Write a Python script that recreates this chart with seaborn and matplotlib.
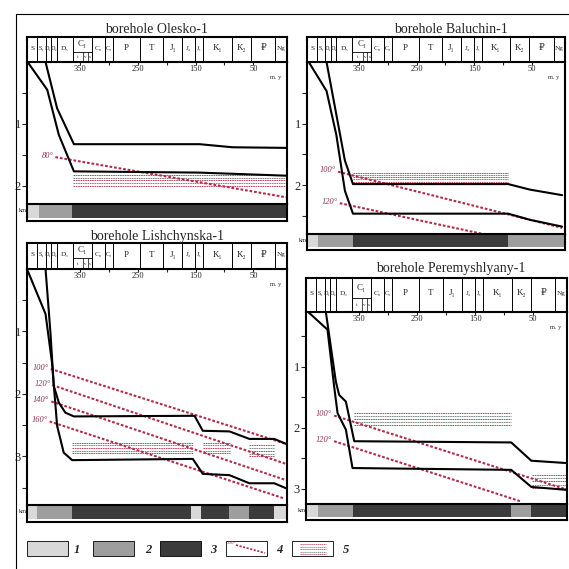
import matplotlib.pyplot as plt
from matplotlib.patches import Rectangle
import numpy as np
import seaborn as sns

W, H = 569, 569

# time scale of the header (m.y.)
stage_labels = ["S", "S₂", "D₁", "D₂", "D₃", "C₁", "C₂", "C₃", "P", "T",
                "J₁", "J₂", "J₃", "K₁", "K₂", "₽", "Ng"]
stage_edges = [441, 423, 409, 399, 390, 362, 329, 307, 293, 246,
               206, 173, 151, 137, 87, 54, 12, -8]
c1_sub_labels = ["t", "v", "s"]
c1_sub_edges = [362, 344, 336, 329]
age_ticks = [350, 300, 250, 200, 150, 100, 50]
age_ticklabels = ["350", "", "250", "", "150", "", "50"]

fill_colors = {1: "#d8d8d8", 2: "#9e9e9e", 3: "#3b3b3b"}

# Olesko-1
olesko_top_age = [409, 389, 360, 143, 86, -7]
olesko_top_depth = [0.0, 0.75, 1.33, 1.33, 1.38, 1.39]
olesko_base_age = [440, 406, 386, 360, 143, -7]
olesko_base_depth = [0.0, 0.45, 1.18, 1.77, 1.79, 1.84]
olesko_iso_temp = ["80°"]
olesko_iso_age = [[392, -7]]
olesko_iso_depth = [[1.54, 2.19]]
olesko_band = [(362, -7, 1.83, 2.00)]
olesko_fill_edges = [441, 421, 363, -8]
olesko_fill_class = [1, 2, 3]

# Baluchin-1
baluchin_top_age = [407, 390, 375, 361, 91, 53, -3]
baluchin_top_depth = [0.0, 0.85, 1.60, 1.98, 1.98, 2.07, 2.16]
baluchin_base_age = [438, 407, 390, 375, 361, 91, 53, -3]
baluchin_base_depth = [0.0, 0.47, 1.18, 2.09, 2.46, 2.46, 2.56, 2.67]
baluchin_iso_temp = ["100°", "120°"]
baluchin_iso_age = [[387, -3], [384, 100]]
baluchin_iso_depth = [[1.78, 2.69], [2.29, 2.86]]
baluchin_band = [(361, 91, 1.80, 1.94)]
baluchin_fill_edges = [441, 421, 361, 91, -8]
baluchin_fill_class = [1, 2, 3, 2]

# Lishchynska-1
lish_top_age = [409, 400.5, 394.8, 386, 374.7, 360, 151.7, 137.4, 91.4, 57, 14, -6.4]
lish_top_depth = [0.0, 1.02, 1.87, 2.14, 2.30, 2.36, 2.35, 2.59, 2.60, 2.72, 2.72, 2.80]
lish_base_age = [439.7, 409, 397.8, 389, 377.6, 363, 154.7, 137.4, 91.4, 57, 14, -6.4]
lish_base_depth = [0.03, 0.72, 1.50, 2.51, 2.94, 3.06, 3.04, 3.28, 3.30, 3.43, 3.43, 3.51]
lish_iso_temp = ["100°", "120°", "140°", "160°"]
lish_iso_age = [[400, -6.4], [397, -6.4], [399, -6.4], [402, -2]]
lish_iso_depth = [[1.60, 2.80], [1.86, 3.12], [2.12, 3.38], [2.44, 3.67]]
lish_band = [(364, 155, 2.78, 2.95), (137, 91, 2.78, 2.95), (57, 14, 2.82, 3.00)]
lish_fill_edges = [441, 423, 363, 157, 140, 92, 57, 14, -8]
lish_fill_class = [1, 2, 3, 1, 3, 2, 3, 1]

# Peremyshlyany-1
perem_top_age = [407, 389.7, 384, 372.4, 358, 88, 53.4, -9.8]
perem_top_depth = [0.09, 1.24, 1.46, 1.57, 2.22, 2.24, 2.54, 2.58]
perem_base_age = [438.4, 404, 392.6, 386.7, 372.4, 361, 88, 53.4, -9.8]
perem_base_depth = [0.09, 0.39, 1.32, 1.76, 2.03, 2.66, 2.69, 2.97, 3.02]
perem_iso_temp = ["100°", "120°"]
perem_iso_age = [[392.6, -9.8], [392.6, 70.7]]
perem_iso_depth = [[1.80, 3.02], [2.22, 3.21]]
perem_band = [(358, 88, 1.76, 1.95), (53, -10, 2.77, 2.99)]
perem_fill_edges = [441, 421, 361, 88, 54, -8]
perem_fill_class = [1, 2, 3, 2, 3]

boreholes = [
    dict(title="borehole Olesko-1", tx=156, ty=29, x0=27, x1=287, yh0=37, yh1=62, yb=203.5, yend=221,
         ylim=(2.29, 0), top=(olesko_top_age, olesko_top_depth), base=(olesko_base_age, olesko_base_depth),
         iso=(olesko_iso_temp, olesko_iso_age, olesko_iso_depth), bands=olesko_band,
         fill=(olesko_fill_edges, olesko_fill_class)),
    dict(title="borehole Baluchin-1", tx=451, ty=29, x0=307, x1=565, yh0=37, yh1=62, yb=234, yend=250,
         ylim=(2.79, 0), top=(baluchin_top_age, baluchin_top_depth), base=(baluchin_base_age, baluchin_base_depth),
         iso=(baluchin_iso_temp, baluchin_iso_age, baluchin_iso_depth), bands=baluchin_band,
         fill=(baluchin_fill_edges, baluchin_fill_class)),
    dict(title="borehole Lishchynska-1", tx=157, ty=236, x0=27, x1=287, yh0=243, yh1=269, yb=504.5, yend=522,
         ylim=(3.77, 0), top=(lish_top_age, lish_top_depth), base=(lish_base_age, lish_base_depth),
         iso=(lish_iso_temp, lish_iso_age, lish_iso_depth), bands=lish_band,
         fill=(lish_fill_edges, lish_fill_class)),
    dict(title="borehole Peremyshlyany-1", tx=451, ty=268, x0=306, x1=567, yh0=278, yh1=312, yb=504, yend=520,
         ylim=(3.25, 0.1), top=(perem_top_age, perem_top_depth), base=(perem_base_age, perem_base_depth),
         iso=(perem_iso_temp, perem_iso_age, perem_iso_depth), bands=perem_band,
         fill=(perem_fill_edges, perem_fill_class)),
]

sns.set_theme(style="white")
plt.rcParams["font.family"] = ["Liberation Serif", "DejaVu Serif"]
plt.rcParams["axes.edgecolor"] = "black"

RED = "#b42a48"


def frect(x0, y0, x1, y1):
    return [x0 / W, 1 - y1 / H, (x1 - x0) / W, (y1 - y0) / H]


fig = plt.figure(figsize=(W / 100, H / 100), dpi=100)

# overlay in pixel units for titles, frame and legend
ov = fig.add_axes([0, 0, 1, 1], zorder=5)
ov.set_xlim(0, W)
ov.set_ylim(H, 0)
ov.axis("off")
ov.patch.set_visible(False)
ov.plot([16, W], [14, 14], color="black", lw=0.8)
ov.plot([16, 16], [14, H], color="black", lw=0.8)

for b in boreholes:
    xlim = (stage_edges[0], stage_edges[-1])
    ov.text(b["tx"], b["ty"], b["title"], ha="center", va="center", fontsize=10)

    # header with stratigraphic units
    axh = fig.add_axes(frect(b["x0"], b["yh0"], b["x1"], b["yh1"]))
    axh.set_xlim(*xlim)
    axh.set_ylim(0, 1)
    axh.set_xticks([])
    axh.set_yticks([])
    for s in axh.spines.values():
        s.set_linewidth(1.5)
    axh.vlines(stage_edges[1:-1], 0, 1, color="black", lw=0.7)
    axh.hlines(0.42, c1_sub_edges[0], c1_sub_edges[-1], color="black", lw=0.6)
    axh.vlines(c1_sub_edges[1:-1], 0, 0.42, color="black", lw=0.5)
    for i, lab in enumerate(stage_labels):
        mid = (stage_edges[i] + stage_edges[i + 1]) / 2
        width = stage_edges[i] - stage_edges[i + 1]
        if width > 30:
            fs = 6.5
        elif width > 15:
            fs = 5.2
        else:
            fs = 4.4
        yy = 0.72 if lab == "C₁" else 0.55
        axh.text(mid, yy, lab, ha="center", va="center", fontsize=fs)
    for i, lab in enumerate(c1_sub_labels):
        mid = (c1_sub_edges[i] + c1_sub_edges[i + 1]) / 2
        axh.text(mid, 0.2, lab, ha="center", va="center", fontsize=3.6)

    # burial history
    ax = fig.add_axes(frect(b["x0"], b["yh1"], b["x1"], b["yb"]))
    ax.set_xlim(*xlim)
    ax.set_ylim(*b["ylim"])
    for s in ["left", "right"]:
        ax.spines[s].set_linewidth(1.5)
    ax.spines["top"].set_linewidth(0.8)
    ax.spines["bottom"].set_linewidth(0.8)

    for start, end, d0, d1 in b["bands"]:
        for k, dd in enumerate(np.linspace(d0, d1, 5)):
            ax.plot([start, end], [dd, dd], color=RED if k % 2 == 0 else "#707070",
                    lw=0.6, ls=(0, (2, 0.8)))

    temps, iso_age, iso_depth = b["iso"]
    for t, ia, idp in zip(temps, iso_age, iso_depth):
        sns.lineplot(x=ia, y=idp, ax=ax, color=RED, lw=1.5, linestyle=(0, (1.3, 0.9)),
                     sort=False, estimator=None)
        ax.annotate(t, xy=(ia[0], idp[0]), xytext=(-1.5, 1), textcoords="offset points",
                    ha="right", va="center", fontsize=6, style="italic", color="#8e3550")

    for age, depth in (b["top"], b["base"]):
        sns.lineplot(x=age, y=depth, ax=ax, color="black", lw=1.5, sort=False, estimator=None)

    ax.xaxis.tick_top()
    ax.set_xticks(age_ticks)
    ax.set_xticklabels(age_ticklabels)
    ax.tick_params(axis="x", direction="in", length=2.5, width=0.8, pad=-8, labelsize=6)
    yt = np.arange(0.5, b["ylim"][0], 0.5)
    ax.set_yticks(yt)
    ax.set_yticklabels([str(int(v)) if v == int(v) else "" for v in yt])
    ax.tick_params(axis="y", direction="out", length=3.5, width=0.8, pad=1, labelsize=9, left=True)
    ax.set_xlabel("")
    ax.set_ylabel("")
    ax.annotate("m. y", xy=(0.935, 1), xycoords="axes fraction", xytext=(0, -11),
                textcoords="offset points", fontsize=4.5, ha="left", va="center")

    # lithology strip
    axb = fig.add_axes(frect(b["x0"], b["yb"], b["x1"], b["yend"]))
    edges, cls = b["fill"]
    left = edges[1:]
    widths = [e0 - e1 for e0, e1 in zip(edges[:-1], edges[1:])]
    axb.barh(y=0.585, width=widths, left=left, height=0.83,
             color=[fill_colors[c] for c in cls], linewidth=0)
    axb.set_xlim(*xlim)
    axb.set_ylim(0, 1)
    axb.set_xticks([])
    axb.set_yticks([])
    for s in axb.spines.values():
        s.set_linewidth(1.5)
    ov.text(b["x0"] - 0.5, (b["yb"] + b["yend"]) / 2 - 2, "km", ha="right", va="center", fontsize=4.5)

# legend
leg_y0, leg_y1 = 541, 556
for i, x in enumerate([27, 93, 160]):
    ov.add_patch(Rectangle((x, leg_y0), 41, leg_y1 - leg_y0, facecolor=fill_colors[i + 1],
                           edgecolor="black", lw=0.6))
for x in [226, 292]:
    ov.add_patch(Rectangle((x, leg_y0), 41, leg_y1 - leg_y0, facecolor="white",
                           edgecolor="black", lw=0.6))
ov.plot([236, 265], [545, 553], color=RED, lw=1.2, ls=(0, (1.3, 0.9)))
ov.text(227, 543.5, "100°", fontsize=3.5, style="italic", color="#8e3550", va="center")
for k, yy in enumerate([544, 546.5, 549, 551.5, 554]):
    ov.plot([300, 326], [yy, yy], color=RED if k % 2 == 0 else "#707070", lw=0.5, ls=(0, (2, 0.8)))
for x, lab in zip([77, 148, 213, 279, 346], ["1", "2", "3", "4", "5"]):
    ov.text(x, 550, lab, fontsize=9, style="italic", fontweight="bold", ha="center", va="center")

plt.savefig("out.png", dpi=100)
